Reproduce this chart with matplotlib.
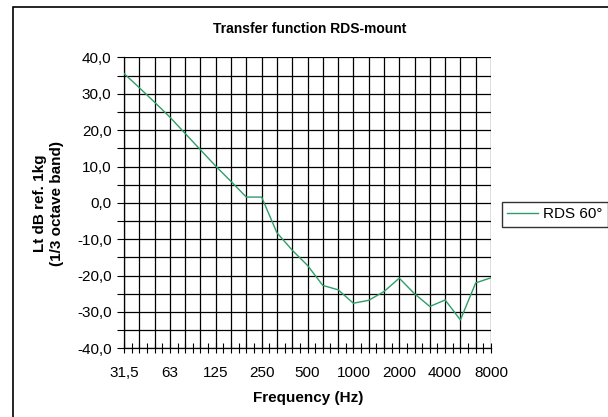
import matplotlib
matplotlib.use("Agg")
import matplotlib.pyplot as plt
from matplotlib.patches import Rectangle
from matplotlib.ticker import MultipleLocator, FixedLocator, FuncFormatter
import numpy as np

plt.rcParams['font.family'] = ['Liberation Sans', 'DejaVu Sans']

frequencies = ["31,5", "40", "50", "63", "80", "100", "125", "160", "200", "250",
               "315", "400", "500", "630", "800", "1000", "1250", "1600", "2000",
               "2500", "3150", "4000", "5000", "6300", "8000"]
rds_60 = [35.6, 31.7, 27.7, 23.6, 19.1, 14.6, 10.1, 5.9, 1.6, 1.6,
          -8.2, -13.0, -17.2, -22.7, -23.9, -27.6, -26.8, -24.4, -20.7,
          -25.0, -28.5, -26.7, -32.2, -22.0, -20.6]
labelled_ticks = ["31,5", "63", "125", "250", "500", "1000", "2000", "4000", "8000"]

W, H = 608, 417
fig = plt.figure(figsize=(W / 100, H / 100), dpi=100)

# outer chart frame
fig.patches.append(Rectangle((12.5 / W, -0.05), 1.1, 1 - 6.5 / H + 0.05,
                             transform=fig.transFigure, fill=False,
                             edgecolor='black', linewidth=1.2))

left, right, top, bottom = 124, 491, 57.5, 348.3
ax = fig.add_axes([left / W, 1 - bottom / H, (right - left) / W, (bottom - top) / H])

x = np.arange(len(frequencies))
line, = ax.plot(x, rds_60, color='#2f9e68', linewidth=1.0, label='RDS 60°', zorder=3)

ax.set_xlim(0, len(frequencies) - 1)
ax.set_ylim(-40, 40)

# y axis
ax.yaxis.set_major_locator(MultipleLocator(10))
ax.yaxis.set_minor_locator(MultipleLocator(5))
ax.yaxis.set_major_formatter(FuncFormatter(lambda v, p: f"{v:.1f}".replace('.', ',')))
ax.tick_params(axis='y', which='both', direction='out', length=5, width=0.8, labelsize=11, pad=4)

# x axis
major_pos = [frequencies.index(f) for f in labelled_ticks]
ax.xaxis.set_major_locator(FixedLocator(major_pos))
ax.set_xticklabels(labelled_ticks)
ax.xaxis.set_minor_locator(FixedLocator(list(np.arange(0, len(frequencies) - 0.99, 0.5))))
ax.tick_params(axis='x', which='both', direction='inout', length=7, width=0.8, labelsize=11, pad=9)

# grid
for xi in x:
    ax.axvline(xi, color='black', linewidth=0.9, zorder=1)
for yv in np.arange(-40, 41, 5):
    ax.axhline(yv, color='black', linewidth=0.9, zorder=1)

for s in ax.spines.values():
    s.set_visible(False)
ax.spines['left'].set_visible(True)
ax.spines['bottom'].set_visible(True)
ax.spines['left'].set_linewidth(0.9)
ax.spines['bottom'].set_linewidth(0.9)

fig.text(310 / W, 1 - 29 / H, "Transfer function RDS-mount", ha='center', va='center',
         fontsize=10, fontweight='bold')
fig.text(308 / W, 1 - 398 / H, "Frequency (Hz)", ha='center', va='center',
         fontsize=11, fontweight='bold')
fig.text(48.5 / W, 1 - 203 / H, "Lt dB ref. 1kg\n(1/3 octave band)", ha='center', va='center',
         rotation=90, fontsize=11, fontweight='bold', linespacing=1.25)

leg = fig.legend(handles=[line], loc='center', bbox_to_anchor=(555 / W, 1 - 214.5 / H),
                 frameon=True, fancybox=False, edgecolor='black', fontsize=11,
                 handlelength=2.0, handletextpad=0.35, borderpad=0.35, borderaxespad=0)
leg.get_frame().set_linewidth(1.0)

fig.savefig("out.png", dpi=100)
